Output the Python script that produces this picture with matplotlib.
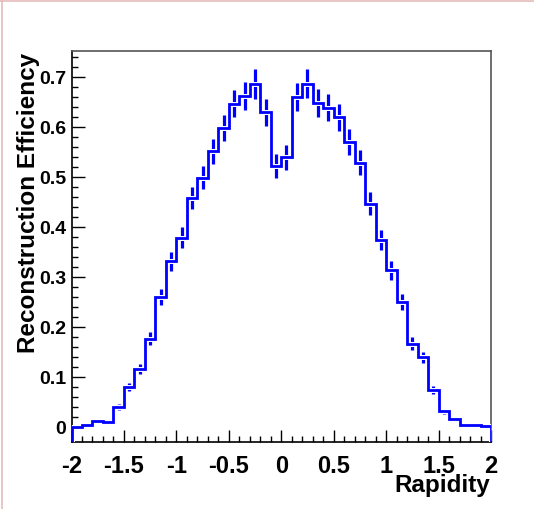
import numpy as np
import matplotlib.pyplot as plt
import matplotlib.patheffects as pe
from matplotlib.lines import Line2D

plt.rcParams['font.family'] = ['Liberation Sans', 'DejaVu Sans']
plt.rcParams['font.weight'] = 'bold'

# rapidity bins: 40 bins from -2 to 2
rap_min, rap_max, n_bins = -2.0, 2.0, 40

# reconstruction efficiency per bin
eff = [0.001, 0.004, 0.012, 0.010, 0.040, 0.081, 0.117, 0.177, 0.260, 0.332,
       0.379, 0.459, 0.499, 0.552, 0.599, 0.647, 0.663, 0.687, 0.630, 0.523,
       0.540, 0.660, 0.687, 0.649, 0.639, 0.620, 0.571, 0.529, 0.447, 0.374,
       0.314, 0.250, 0.167, 0.140, 0.075, 0.032, 0.017, 0.005, 0.004, 0.002]

# statistical errors per bin
err = [0.002, 0.003, 0.004, 0.004, 0.006, 0.008, 0.010, 0.013, 0.016, 0.019,
       0.021, 0.022, 0.023, 0.025, 0.026, 0.027, 0.028, 0.030, 0.027, 0.024,
       0.025, 0.028, 0.029, 0.028, 0.027, 0.027, 0.026, 0.025, 0.023, 0.020,
       0.019, 0.016, 0.013, 0.011, 0.008, 0.005, 0.004, 0.003, 0.003, 0.002]

eff = np.array(eff)
err = np.array(err)
edges = np.linspace(rap_min, rap_max, n_bins + 1)
centers = 0.5 * (edges[:-1] + edges[1:])

ymin, ymax = -0.03, 0.752

fig = plt.figure(figsize=(5.34, 5.10), dpi=100)
ax = fig.add_axes([71.5 / 534, 1 - 443 / 510, (491 - 71.5) / 534, (443 - 52) / 510])

blue = '#0000ff'

# error bars at bin centres
ax.vlines(centers, eff - err, eff + err, color=blue, lw=2.3, zorder=2)

# histogram outline
st = ax.stairs(eff, edges, baseline=ymin, color=blue, lw=2.0, zorder=3)
st.set_path_effects([pe.Stroke(linewidth=3.6, foreground='white'), pe.Normal()])

ax.set_xlim(rap_min, rap_max)
ax.set_ylim(ymin, ymax)

ax.set_xticks(np.arange(-2, 2.01, 0.5))
ax.set_xticklabels(['-2', '-1.5', '-1', '-0.5', '0', '0.5', '1', '1.5', '2'])
ax.set_xticks(np.arange(-2, 2.01, 0.1), minor=True)
ax.set_yticks(np.arange(0, 0.71, 0.1))
ax.set_yticklabels(['0', '0.1', '0.2', '0.3', '0.4', '0.5', '0.6', '0.7'])
ax.set_yticks(np.arange(0, 0.751, 0.02), minor=True)

ax.tick_params(which='both', direction='in', top=False, right=False,
               width=1.0, color='black')
ax.tick_params(which='major', length=9)
ax.tick_params(which='minor', length=4.5)
ax.tick_params(axis='x', pad=9, labelsize=17)
ax.tick_params(axis='y', pad=4, labelsize=14)

for s in ['left', 'bottom']:
    ax.spines[s].set_color('black')
    ax.spines[s].set_linewidth(1.2)
for s in ['top', 'right']:
    ax.spines[s].set_color('#555555')
    ax.spines[s].set_linewidth(1.2)

fig.text(29 / 534, 1 - 53 / 510, 'Reconstruction Efficiency', rotation=90,
         ha='center', va='top', fontsize=17.5, fontweight='bold')
fig.text(490 / 534, 1 - 486 / 510, 'Rapidity', ha='right', va='center',
         fontsize=17.5, fontweight='bold')

# light border of the canvas
fig.add_artist(Line2D([0, 1], [1 - 1.5 / 510, 1 - 1.5 / 510], color='#e6bcbc', lw=1.2))
fig.add_artist(Line2D([1.5 / 534, 1.5 / 534], [0, 1], color='#e6bcbc', lw=1.2))

fig.savefig('out.png', dpi=100)
